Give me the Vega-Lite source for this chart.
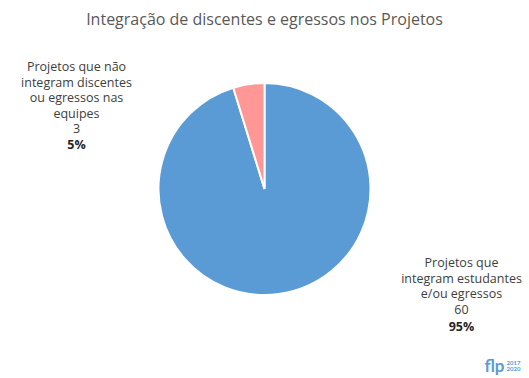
{
  "$schema": "https://vega.github.io/schema/vega-lite/v6.json",
  "width": 529,
  "height": 378,
  "padding": 0,
  "autosize": {"type": "none"},
  "background": "white",
  "data": {
    "values": [
      {"categoria": "Projetos que\nintegram estudantes\ne/ou egressos", "valor": 60, "pct": "95%"},
      {"categoria": "Projetos  que não\nintegram discentes\nou egressos nas\nequipes", "valor": 3, "pct": "5%"}
    ]
  },
  "view": {"stroke": null},
  "layer": [
    {
      "mark": {"type": "arc", "outerRadius": 106, "stroke": "white", "strokeWidth": 2},
      "encoding": {
        "theta": {"field": "valor", "type": "quantitative", "stack": true},
        "order": {"field": "valor", "sort": "descending"},
        "color": {
          "field": "valor",
          "type": "nominal",
          "scale": {"domain": [60, 3], "range": ["#5B9BD5", "#FF9797"]},
          "legend": null
        }
      }
    },
    {
      "transform": [{"filter": "datum.valor == 60"}],
      "mark": {"type": "text", "font": "Open Sans", "fontSize": 16, "color": "#595959", "align": "center", "baseline": "alphabetic", "dx": 0, "dy": -164},
      "encoding": {"text": {"value": "Integração de discentes e egressos nos Projetos"}}
    },
    {
      "transform": [{"filter": "datum.valor == 3"}],
      "mark": {"type": "text", "font": "Open Sans", "fontSize": 12.5, "color": "#404040", "align": "center", "baseline": "alphabetic", "lineBreak": "\n", "lineHeight": 15.5, "dx": -188, "dy": -118},
      "encoding": {"text": {"field": "categoria"}}
    },
    {
      "transform": [{"filter": "datum.valor == 3"}],
      "mark": {"type": "text", "font": "Open Sans", "fontSize": 12.5, "color": "#404040", "align": "center", "baseline": "alphabetic", "dx": -188, "dy": -56},
      "encoding": {"text": {"field": "valor", "type": "quantitative"}}
    },
    {
      "transform": [{"filter": "datum.valor == 3"}],
      "mark": {"type": "text", "font": "Open Sans", "fontSize": 12.5, "fontWeight": "bold", "color": "#262626", "align": "center", "baseline": "alphabetic", "dx": -188, "dy": -40},
      "encoding": {"text": {"field": "pct"}}
    },
    {
      "transform": [{"filter": "datum.valor == 60"}],
      "mark": {"type": "text", "font": "Open Sans", "fontSize": 12.5, "color": "#404040", "align": "center", "baseline": "alphabetic", "lineBreak": "\n", "lineHeight": 15.5, "dx": 197, "dy": 78},
      "encoding": {"text": {"field": "categoria"}}
    },
    {
      "transform": [{"filter": "datum.valor == 60"}],
      "mark": {"type": "text", "font": "Open Sans", "fontSize": 12.5, "color": "#404040", "align": "center", "baseline": "alphabetic", "dx": 197, "dy": 125},
      "encoding": {"text": {"field": "valor", "type": "quantitative"}}
    },
    {
      "transform": [{"filter": "datum.valor == 60"}],
      "mark": {"type": "text", "font": "Open Sans", "fontSize": 12.5, "fontWeight": "bold", "color": "#262626", "align": "center", "baseline": "alphabetic", "dx": 197, "dy": 142},
      "encoding": {"text": {"field": "pct"}}
    },
    {
      "transform": [{"filter": "datum.valor == 60"}],
      "mark": {"type": "text", "font": "Lato", "fontSize": 17, "fontWeight": "bold", "color": "#5B9BD5", "align": "center", "baseline": "alphabetic", "dx": 230, "dy": 183},
      "encoding": {"text": {"value": "flp"}}
    },
    {
      "transform": [{"filter": "datum.valor == 60"}],
      "mark": {"type": "text", "font": "Lato", "fontSize": 6, "fontWeight": "bold", "color": "#5B9BD5", "align": "left", "baseline": "alphabetic", "lineBreak": "\n", "lineHeight": 6, "dx": 242, "dy": 176},
      "encoding": {"text": {"value": "2017\n2020"}}
    }
  ]
}
